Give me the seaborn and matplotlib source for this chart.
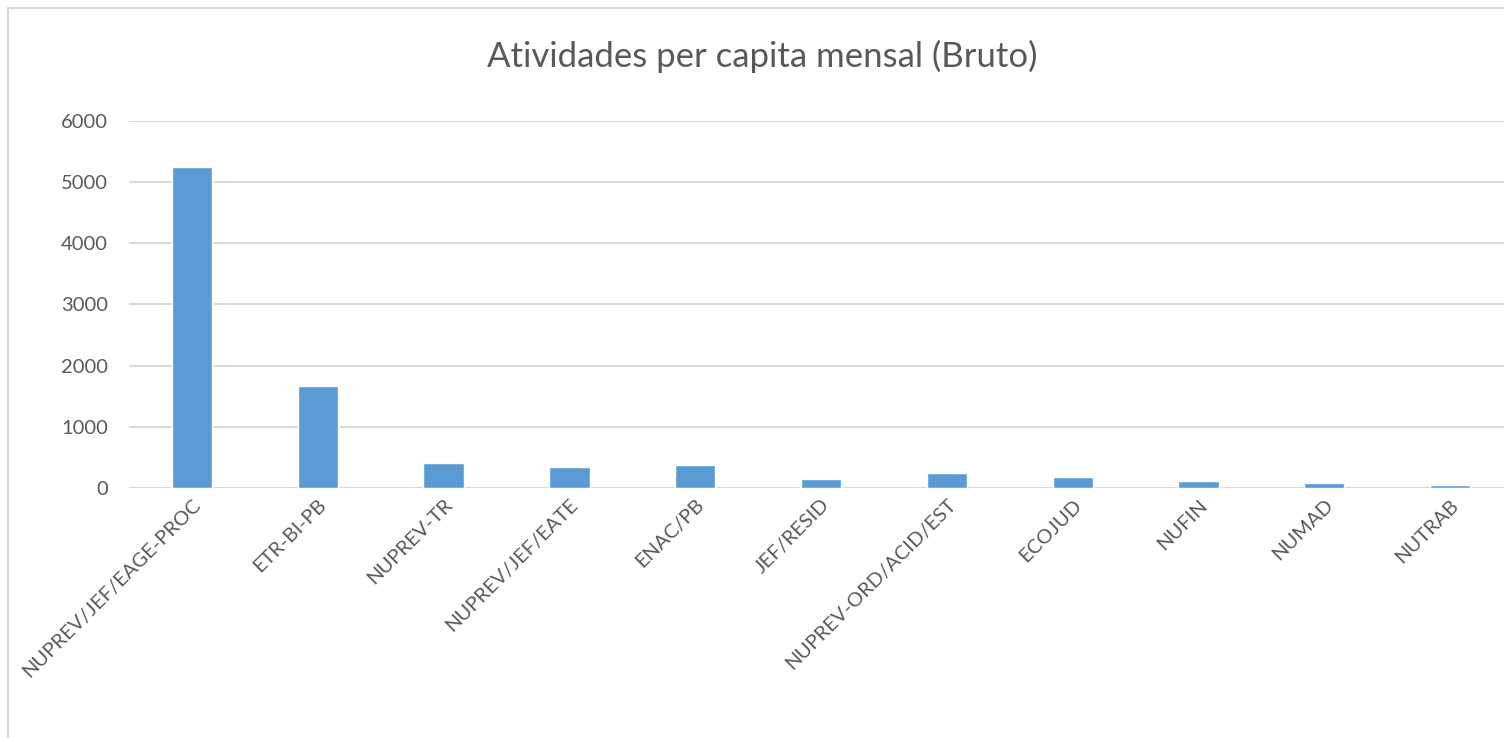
import matplotlib.pyplot as plt
import matplotlib.patches as mpatches
import pandas as pd
import seaborn as sns

categorias = ['NUPREV/JEF/EAGE-PROC', 'ETR-BI-PB', 'NUPREV-TR', 'NUPREV/JEF/EATE',
              'ENAC/PB', 'JEF/RESID', 'NUPREV-ORD/ACID/EST', 'ECOJUD', 'NUFIN',
              'NUMAD', 'NUTRAB']
valores = [5255, 1670, 415, 350, 378, 148, 248, 180, 118, 82, 50]
y_ticks = [0, 1000, 2000, 3000, 4000, 5000, 6000]

df = pd.DataFrame({'setor': categorias, 'valor': valores})

sns.set_style('white')
plt.rcParams['font.family'] = ['Lato', 'DejaVu Sans']

fig = plt.figure(figsize=(15.04, 7.38), dpi=100)
ax = fig.add_axes([0.0858, 0.3388, 0.9202, 0.4973])

sns.barplot(data=df, x='setor', y='valor', color='#5b9bd5', width=0.32,
            saturation=1, ax=ax)

ax.set_ylim(0, 6000)
ax.set_yticks(y_ticks)
ax.yaxis.grid(True, color='#d9d9d9', linewidth=1.5)
ax.set_axisbelow(True)
for s in ax.spines.values():
    s.set_visible(False)
ax.tick_params(axis='both', length=0, colors='#595959', labelsize=14.5)
ax.tick_params(axis='y', pad=15)
ax.tick_params(axis='x', pad=6)
ax.set_xlabel('')
ax.set_ylabel('')
plt.setp(ax.get_xticklabels(), rotation=45, ha='right', rotation_mode='anchor')

fig.text(0.507, 0.923, 'Atividades per capita mensal (Bruto)', ha='center',
         va='center', fontsize=25, color='#595959')

# moldura do grafico
fig.patches.append(mpatches.Rectangle((8 / 1504, -0.1), 1.2, 0.1 + 730 / 738,
                                      transform=fig.transFigure, fill=False,
                                      edgecolor='#d9d9d9', linewidth=1.5))

fig.savefig('out.png', dpi=100, facecolor='white')
